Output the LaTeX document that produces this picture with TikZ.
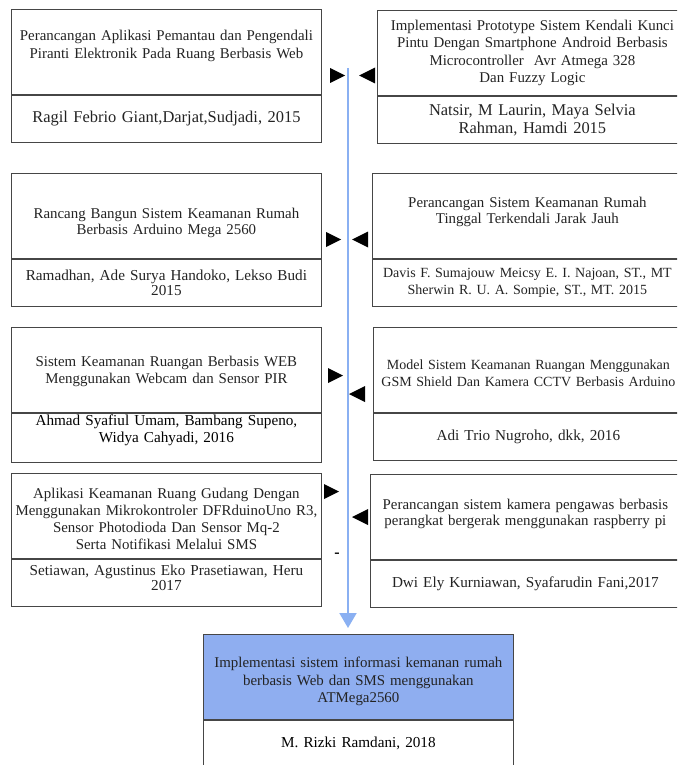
\documentclass[tikz,border=0pt]{standalone}
\usepackage{fontspec}
\setmainfont{Liberation Serif}
\usetikzlibrary{positioning, arrows.meta}

\definecolor{garis}{RGB}{70,70,70}
\definecolor{teks}{RGB}{35,35,35}
\definecolor{birumuda}{RGB}{143,174,240}
\definecolor{birugaris}{RGB}{138,176,242}

\newcommand{\ukuran}[2]{\fontsize{#1}{#2}\selectfont}
% segitiga hitam: kanan (x kiri, y tengah), kiri (x ujung, y tengah)
\newcommand{\segitigakanan}[2]{\fill (#1,#2-7.5) -- ++(15,7.5) -- ++(-15,7.5) -- cycle;}
\newcommand{\segitigakiri}[2]{\fill (#1,#2) -- ++(16,-8) -- ++(0,16) -- cycle;}

\tikzset{
    kotak/.style={draw=garis, line width=0.8pt, minimum width=310pt, inner sep=2pt,
        text width=306pt, align=center, text=teks},
    judul/.style={kotak, minimum height=85pt, font=\ukuran{14.9}{17.5}},
    penulis/.style={kotak, minimum height=47pt, font=\ukuran{15.2}{17.5}},
}

\begin{document}
\begin{tikzpicture}[x=1pt, y=-1pt]
    \path[use as bounding box, clip] (0,0) rectangle (677,765);

    % kolom kiri
    \node[judul, anchor=north west, text depth=33pt] (judul1) at (11,9)
        {Perancangan Aplikasi Pemantau dan Pengendali\\Piranti Elektronik Pada Ruang Berbasis Web};
    \node[penulis, below=0pt of judul1, font=\ukuran{16.45}{18}] (penulis1)
        {Ragil Febrio Giant,Darjat,Sudjadi, 2015};

    \node[judul, anchor=north west, font=\ukuran{14.9}{15.5}, text depth=5pt] (judul3) at (11,173)
        {Rancang Bangun Sistem Keamanan Rumah\\Berbasis Arduino Mega 2560};
    \node[penulis, below=0pt of judul3, font=\ukuran{15.2}{15}] (penulis3)
        {Ramadhan, Ade Surya Handoko, Lekso Budi\\2015};

    \node[judul, anchor=north west, text depth=17.5pt] (judul5) at (11,327)
        {Sistem Keamanan Ruangan Berbasis WEB\\Menggunakan Webcam dan Sensor PIR};
    \node[penulis, below=0pt of judul5, text=black, font=\ukuran{15.2}{17}, text depth=34pt] (penulis5)
        {Ahmad Syafiul Umam, Bambang Supeno,\\Widya Cahyadi, 2016};

    \node[judul, anchor=north west, font=\ukuran{14.9}{17}, text depth=45.5pt] (judul7) at (11,473)
        {Aplikasi Keamanan Ruang Gudang Dengan\\\makebox[306pt]{Menggunakan Mikrokontroler DFRduinoUno R3,}\\Sensor Photodioda Dan Sensor Mq-2\\Serta Notifikasi Melalui SMS};
    \node[penulis, below=0pt of judul7, font=\ukuran{15.2}{14.5}, text depth=24pt] (penulis7)
        {Setiawan, Agustinus Eko Prasetiawan, Heru\\2017};

    % kolom kanan
    \node[judul, anchor=north west] (judul2) at (377,10)
        {Implementasi Prototype Sistem Kendali Kunci\\Pintu Dengan Smartphone Android Berbasis\\Microcontroller\ \ Avr Atmega 328\\Dan Fuzzy Logic};
    \node[penulis, below=0pt of judul2, font=\ukuran{16.45}{18}] (penulis2)
        {Natsir, M Laurin, Maya Selvia\\Rahman, Hamdi 2015};

    \node[judul, anchor=north west, font=\ukuran{14.9}{16}, text depth=28pt] (judul4) at (372,173)
        {Perancangan Sistem Keamanan Rumah\\Tinggal Terkendali Jarak Jauh};
    \node[penulis, below=0pt of judul4, font=\ukuran{14}{17}] (penulis4)
        {Davis F. Sumajouw Meicsy E. I. Najoan, ST., MT\\Sherwin R. U. A. Sompie, ST., MT. 2015};

    \node[judul, anchor=north west, font=\ukuran{14}{17}, text depth=11pt] (judul6) at (373,327)
        {Model Sistem Keamanan Ruangan Menggunakan\\GSM Shield Dan Kamera CCTV Berbasis Arduino};
    \node[penulis, below=0pt of judul6] (penulis6)
        {Adi Trio Nugroho, dkk, 2016};

    \node[judul, anchor=north west, font=\ukuran{14.9}{15.5}, text depth=25pt] (judul8) at (370,474)
        {Perancangan sistem kamera pengawas berbasis\\perangkat bergerak menggunakan raspberry pi};
    \node[penulis, below=0pt of judul8] (penulis8)
        {Dwi Ely Kurniawan, Syafarudin Fani,2017};

    % hasil
    \node[judul, anchor=north west, fill=birumuda, text depth=28.5pt] (judul9) at (203,634)
        {Implementasi sistem informasi kemanan rumah\\berbasis Web dan SMS menggunakan\\ATMega2560};
    \node[penulis, below=0pt of judul9, text=black] (penulis9)
        {M. Rizki Ramdani, 2018};

    % garis alur
    \coordinate (atas) at (348,68);
    \draw[birugaris, line width=2pt, -{Triangle[width=17pt,length=15pt]}, shorten >=6pt]
        (atas) -- (atas |- judul9.north);

    \segitigakanan{330}{75.5}
    \segitigakiri{359}{75.5}
    \segitigakanan{326}{239.5}
    \segitigakiri{352}{239.5}
    \segitigakanan{328}{375.5}
    \segitigakiri{349}{394}
    \segitigakanan{324}{491.5}
    \segitigakiri{352}{517}

    \node[font=\ukuran{16}{16}\bfseries] (strip) at (337,555) {-};
\end{tikzpicture}
\end{document}
